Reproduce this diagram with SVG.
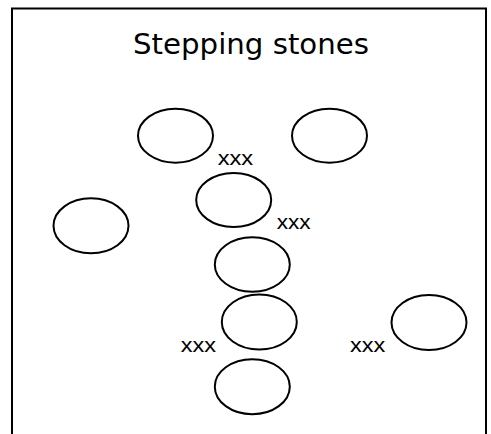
<svg xmlns="http://www.w3.org/2000/svg" width="491" height="434" viewBox="0 0 491 434">
<style>
.stone{fill:none;stroke:#000;stroke-width:2}
.lbl{font-family:"Liberation Sans",Arial,sans-serif;font-size:21px;fill:#000}
.title{font-family:"Comic Sans MS","DejaVu Sans",sans-serif;font-size:29px;fill:#000}
</style>
<rect width="491" height="434" fill="#fff"/>
<path d="M12,434 V8.5 H486 V434" fill="none" stroke="#000" stroke-width="2"/>
<text class="title" x="251" y="54" text-anchor="middle" textLength="236" lengthAdjust="spacingAndGlyphs">Stepping stones</text>
<g id="stone1"><ellipse class="stone" cx="175.5" cy="135.7" rx="37.5" ry="27"/></g>
<g id="stone2"><ellipse class="stone" cx="329.5" cy="135.7" rx="37.5" ry="27"/></g>
<g id="stone3"><ellipse class="stone" cx="233.7" cy="200" rx="37.5" ry="27"/></g>
<g id="stone4"><ellipse class="stone" cx="91" cy="225.8" rx="37.5" ry="27.5"/></g>
<g id="stone5"><ellipse class="stone" cx="252.3" cy="264.5" rx="37.5" ry="27.3"/></g>
<g id="stone6"><ellipse class="stone" cx="259.3" cy="322" rx="37.5" ry="27.5"/></g>
<g id="stone7"><ellipse class="stone" cx="252.3" cy="386.7" rx="37.5" ry="27.5"/></g>
<g id="stone8"><ellipse class="stone" cx="429" cy="322.5" rx="37.5" ry="27.5"/></g>
<g id="labels">
<text class="lbl" x="217.7" y="165" textLength="35.5" lengthAdjust="spacingAndGlyphs">xxx</text>
<text class="lbl" x="276.7" y="229" textLength="34" lengthAdjust="spacingAndGlyphs">xxx</text>
<text class="lbl" x="180.7" y="351.7" textLength="35.3" lengthAdjust="spacingAndGlyphs">xxx</text>
<text class="lbl" x="350" y="351.7" textLength="35.3" lengthAdjust="spacingAndGlyphs">xxx</text>
</g>
<g id="connectors"/>
</svg>
